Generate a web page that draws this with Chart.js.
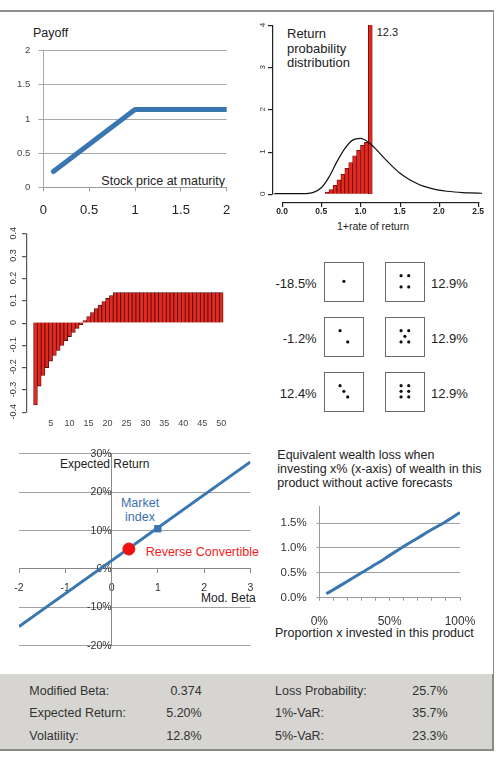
<!DOCTYPE html>
<html>
<head>
<meta charset="utf-8">
<script src="https://cdn.jsdelivr.net/npm/chart.js@4/dist/chart.umd.min.js"></script>
<style>
  html, body { margin: 0; padding: 0; background: #fff; }
  body { width: 496px; height: 767px; position: relative; overflow: hidden;
         font-family: "Liberation Sans", Arial, sans-serif; color: #222; }
  canvas { position: absolute; }
  .lbl { position: absolute; white-space: nowrap; line-height: 1; transform: translateY(-50%); }
  .rt { transform: translate(-100%, -50%); }
  .ct { transform: translate(-50%, -50%); }
  .line { position: absolute; background: #8e8e8e; }
  .die { position: absolute; width: 38px; height: 38px; border: 1px solid #6a6a6a; }
  .die canvas { left: 0; top: 0; }
  .stats { position: absolute; left: 0; top: 674px; width: 492px; height: 75px;
           background: #d6d5d1; border-right: 2px solid #8a8a8a; border-bottom: 2px solid #8a8a8a; }
</style>
</head>
<body>
<div class="line" style="left:0;top:10px;width:494px;height:1.5px"></div>
<div class="line" style="left:492.5px;top:10px;width:1.5px;height:665px"></div>
<div class="stats"></div>
<div id="texts"></div>
<script>
// payoff at maturity
const payoffPrice = [0.11, 1.0, 2.0];
const payoffValue = [0.23, 1.14, 1.14];
const payoffTicks = [0, 0.5, 1, 1.5, 2];

// return probability distribution (histogram + reference density)
const histMid = [0.575, 0.625, 0.675, 0.725, 0.775, 0.825, 0.875, 0.925, 0.975, 1.025, 1.075, 1.125];
const histDensity = [0.04, 0.1, 0.2, 0.33, 0.46, 0.6, 0.74, 0.9, 1.03, 1.15, 1.22, 12.3];
const densityX = [-0.1, 0, 0.1, 0.2, 0.3, 0.4, 0.5, 0.6, 0.7, 0.8, 0.9, 1.0, 1.1, 1.2, 1.3,
                  1.4, 1.5, 1.6, 1.7, 1.8, 1.9, 2.0, 2.1, 2.2, 2.3, 2.4, 2.5, 2.55];
const densityY = [0, 0, 0, 0, 0.003, 0.03, 0.14, 0.40, 0.76, 1.07, 1.27, 1.31, 1.22, 1.05, 0.85,
                  0.66, 0.49, 0.36, 0.26, 0.18, 0.125, 0.085, 0.058, 0.04, 0.027, 0.018, 0.012, 0.01];
const histTicksX = [0, 0.5, 1, 1.5, 2, 2.5];
const histTicksY = [0, 1, 2, 3, 4];

// sorted scenario returns
const scenarioNo = [1, 2, 3, 4, 5, 6, 7, 8, 9, 10, 11, 12, 13, 14, 15, 16, 17, 18, 19, 20, 21, 22, 23, 24, 25,
                    26, 27, 28, 29, 30, 31, 32, 33, 34, 35, 36, 37, 38, 39, 40, 41, 42, 43, 44, 45, 46, 47, 48, 49, 50];
const scenarioReturn = [-0.37, -0.285, -0.237, -0.202, -0.173, -0.148, -0.125, -0.103, -0.082, -0.063,
                        -0.044, -0.026, -0.01, 0.009, 0.027, 0.045, 0.062, 0.078, 0.094, 0.108,
                        0.121, 0.134, 0.134, 0.134, 0.134, 0.134, 0.134, 0.134, 0.134, 0.134,
                        0.134, 0.134, 0.134, 0.134, 0.134, 0.134, 0.134, 0.134, 0.134, 0.134,
                        0.134, 0.134, 0.134, 0.134, 0.134, 0.134, 0.134, 0.134, 0.134, 0.134];
const scenarioTicksX = [5, 10, 15, 20, 25, 30, 35, 40, 45, 50];
const scenarioTicksY = [-0.4, -0.3, -0.2, -0.1, 0, 0.1, 0.2, 0.3, 0.4];

// dice outcomes (pips as column,row on a 3x3 face)
const diceReturn = ['-18.5%', '-1.2%', '12.4%', '12.9%', '12.9%', '12.9%'];
const dicePips = [
  [[2, 2]],
  [[1, 3], [3, 1]],
  [[1, 3], [2, 2], [3, 1]],
  [[1, 3], [3, 3], [1, 1], [3, 1]],
  [[1, 3], [3, 3], [2, 2], [1, 1], [3, 1]],
  [[1, 3], [3, 3], [1, 2], [3, 2], [1, 1], [3, 1]]
];

// security market line
const smlBeta = [-2, 3];
const smlReturn = [-15.0, 27.9];
const marketBeta = [1];
const marketReturn = [10.5];
const productBeta = [0.374];
const productReturn = [5.2];
const smlTicksX = [-2, -1, 0, 1, 2, 3];
const smlTicksY = [-20, -10, 0, 10, 20, 30];

// equivalent wealth loss
const lossShare = [5, 10, 20, 30, 40, 50, 60, 70, 80, 90, 100];
const lossValue = [0.08, 0.16, 0.33, 0.5, 0.67, 0.85, 1.03, 1.2, 1.37, 1.53, 1.71];
const lossTicksX = [0, 10, 20, 30, 40, 50, 60, 70, 80, 90, 100];
const lossTicksY = [0, 0.5, 1, 1.5];

// summary
const statNameL = ['Modified Beta:', 'Expected Return:', 'Volatility:'];
const statValL = ['0.374', '5.20%', '12.8%'];
const statNameR = ['Loss Probability:', '1%-VaR:', '5%-VaR:'];
const statValR = ['25.7%', '35.7%', '23.3%'];

const FONT = '"Liberation Sans", Arial, sans-serif';
const BLUE = '#3a76b0';
Chart.defaults.font.family = FONT;
Chart.defaults.color = '#333';
Chart.defaults.animation = false;
Chart.defaults.responsive = false;
Chart.defaults.devicePixelRatio = 1;
Chart.defaults.plugins.legend.display = false;
Chart.defaults.plugins.tooltip.enabled = false;

function canvasAt(left, top, w, h, parent) {
  const c = document.createElement('canvas');
  c.width = w; c.height = h;
  c.style.left = left + 'px'; c.style.top = top + 'px';
  c.style.width = w + 'px'; c.style.height = h + 'px';
  (parent || document.body).appendChild(c);
  return c;
}
function label(text, x, y, size, cls, color) {
  const d = document.createElement('div');
  d.className = 'lbl' + (cls ? ' ' + cls : '');
  d.textContent = text;
  d.style.left = x + 'px'; d.style.top = y + 'px';
  d.style.fontSize = size + 'px';
  if (color) d.style.color = color;
  document.getElementById('texts').appendChild(d);
}
const setTicks = arr => s => { s.ticks = arr.map(v => ({ value: v })); };

// R style axes: line only over the tick range, ticks pointing outwards, rotated y labels
function rAxes(opts) {
  return {
    id: 'rAxes' + opts.tag,
    afterDraw(chart) {
      const { ctx, chartArea, scales: { x, y } } = chart;
      const yv = opts.yTicks, xv = opts.xTicks;
      const X = Math.round(chartArea.left - opts.gap) + 0.5;
      const y0 = y.getPixelForValue(yv[0]);
      const y1 = y.getPixelForValue(yv[yv.length - 1]);
      ctx.save();
      ctx.fillStyle = opts.color;
      ctx.fillRect(X - 0.5, Math.min(y0, y1), 1.2, Math.abs(y1 - y0) + 1);
      yv.forEach(v => {
        const Y = Math.round(y.getPixelForValue(v));
        ctx.fillRect(X - 4.5, Y, 4, 1.2);
      });
      if (xv) {
        const Y = Math.round(chartArea.bottom);
        const x0 = x.getPixelForValue(xv[0]);
        const x1 = x.getPixelForValue(xv[xv.length - 1]);
        ctx.fillRect(x0, Y, x1 - x0 + 1, 1.2);
        xv.forEach(v => {
          const P = Math.round(x.getPixelForValue(v));
          ctx.fillRect(P, Y, 1.2, 5);
        });
      }
      ctx.font = opts.ySize + 'px ' + FONT;
      ctx.fillStyle = '#333';
      ctx.textAlign = 'center';
      ctx.textBaseline = 'middle';
      yv.forEach(v => {
        ctx.save();
        ctx.translate(X - opts.yOffset, y.getPixelForValue(v));
        ctx.rotate(-Math.PI / 2);
        ctx.fillText(String(v), 0, 0);
        ctx.restore();
      });
      ctx.restore();
    }
  };
}

// --- payoff ---
new Chart(canvasAt(0, 20, 245, 205), {
  type: 'line',
  data: { datasets: [{
    data: payoffPrice.map((p, i) => ({ x: p, y: payoffValue[i] })),
    borderColor: BLUE, borderWidth: 5, pointRadius: 0,
    borderCapStyle: 'round', borderJoinStyle: 'round'
  }] },
  options: {
    layout: { padding: { top: 30.7, right: 18.3, left: 0, bottom: 0 } },
    scales: {
      x: { type: 'linear', min: 0, max: 2, afterBuildTicks: setTicks(payoffTicks),
           afterFit: s => { s.height = 37.7; },
           grid: { drawOnChartArea: false, tickLength: 4, color: '#9a9a9a' },
           border: { color: '#9a9a9a' },
           ticks: { font: { size: 13 }, padding: 11, color: '#222', maxRotation: 0, callback: v => String(v) } },
      y: { min: 0, max: 2, afterBuildTicks: setTicks(payoffTicks),
           afterFit: s => { s.width = 43.3; },
           grid: { color: '#a8a8a8', tickLength: 5 },
           border: { color: '#a8a8a8' },
           ticks: { font: { size: 9.5 }, padding: 8, color: '#444', callback: v => String(v) } }
    }
  }
});
label('Payoff', 33, 33.3, 12.5);
label('Stock price at maturity', 225, 181, 12.5, 'rt');

// --- histogram ---
new Chart(canvasAt(250, 12, 244, 228), {
  data: { datasets: [
    { type: 'line', data: densityX.map((v, i) => ({ x: v, y: densityY[i] })),
      borderColor: '#111', borderWidth: 1.2, pointRadius: 0, cubicInterpolationMode: 'monotone', order: 0 },
    { type: 'bar', data: histMid.map((v, i) => ({ x: v, y: histDensity[i] })),
      backgroundColor: '#e8261e', borderColor: '#5a0f0f', borderWidth: 0.8,
      barPercentage: 1, categoryPercentage: 1, clip: 0, order: 1 }
  ] },
  options: {
    layout: { padding: { top: 13, right: 8, left: 0, bottom: 0 } },
    scales: {
      x: { type: 'linear', min: -0.128, max: 2.6, offset: false, afterBuildTicks: setTicks(histTicksX),
           afterFit: s => { s.height = 38.3; },
           grid: { display: false, drawTicks: false },
           border: { display: false },
           ticks: { font: { size: 8.5, weight: 'bold' }, padding: 5.3, color: '#222', maxRotation: 0,
                    callback: v => v.toFixed(1) } },
      y: { min: -0.19, max: 4, afterBuildTicks: setTicks(histTicksY),
           afterFit: s => { s.width = 22; },
           grid: { display: false, drawTicks: false },
           border: { display: false },
           ticks: { display: false } }
    }
  },
  plugins: [rAxes({ tag: 'H', color: '#222', xTicks: histTicksX, yTicks: histTicksY, gap: 0, yOffset: 10, ySize: 8 })]
});
label('Return', 287, 33.3, 13);
label('probability', 287, 47.5, 13);
label('distribution', 287, 61.7, 13);
label('12.3', 376.7, 31.7, 11);
label('1+rate of return', 373, 226, 10.5, 'ct');

// --- scenario bars ---
new Chart(canvasAt(0, 222, 245, 212), {
  type: 'bar',
  data: { datasets: [{
    data: scenarioNo.map((n, i) => ({ x: n, y: scenarioReturn[i] })),
    backgroundColor: '#e5271f', borderColor: '#4a0d0d', borderWidth: 0.8,
    barPercentage: 1, categoryPercentage: 1
  }] },
  options: {
    layout: { padding: { top: 11.3, right: 15, left: 0, bottom: 0 } },
    scales: {
      x: { type: 'linear', min: -0.45, max: 52.32, offset: false, afterBuildTicks: setTicks(scenarioTicksX),
           afterFit: s => { s.height = 22.3; },
           grid: { display: false, drawTicks: false }, border: { display: false },
           ticks: { font: { size: 9 }, padding: 6.2, color: '#444', maxRotation: 0, autoSkip: false } },
      y: { min: -0.4, max: 0.4, afterBuildTicks: setTicks(scenarioTicksY),
           afterFit: s => { s.width = 30; },
           grid: { display: false, drawTicks: false },
           border: { display: false },
           ticks: { display: false } }
    }
  },
  plugins: [rAxes({ tag: 'S', color: '#555', yTicks: scenarioTicksY, gap: 4, yOffset: 13, ySize: 9 })]
});

// --- dice ---
const dieCols = [324, 385];
const dieRows = [262, 317, 372];
dicePips.forEach((pips, i) => {
  const col = Math.floor(i / 3), row = i % 3;
  const box = document.createElement('div');
  box.className = 'die';
  box.style.left = dieCols[col] + 'px';
  box.style.top = dieRows[row] + 'px';
  document.body.appendChild(box);
  new Chart(canvasAt(0, 0, 38, 38, box), {
    type: 'scatter',
    data: { datasets: [{ data: pips.map(p => ({ x: p[0], y: p[1] })),
                         pointRadius: 1.6, backgroundColor: '#111', borderWidth: 0 }] },
    options: {
      layout: { padding: 0 },
      scales: { x: { display: false, min: -1.89, max: 5.95 }, y: { display: false, min: -0.78, max: 4.54 } }
    }
  });
  const cy = dieRows[row] + 21;
  if (col === 0) label(diceReturn[i], 316.7, cy, 13, 'rt');
  else label(diceReturn[i], 431, cy, 13);
});

// --- security market line ---
new Chart(canvasAt(0, 440, 262, 225), {
  type: 'line',
  data: { datasets: [
    { type: 'scatter', data: productBeta.map((b, i) => ({ x: b, y: productReturn[i] })),
      pointStyle: 'circle', pointRadius: 6, backgroundColor: '#ee1111', borderColor: '#ee1111', order: 0 },
    { type: 'scatter', data: marketBeta.map((b, i) => ({ x: b, y: marketReturn[i] })),
      pointStyle: 'rect', pointRadius: 4.5, backgroundColor: '#3c74b2', borderColor: '#3c74b2', order: 1 },
    { data: smlBeta.map((b, i) => ({ x: b, y: smlReturn[i] })),
      borderColor: BLUE, borderWidth: 3, pointRadius: 0, order: 2 }
  ] },
  options: {
    layout: { padding: { left: 19, top: 11.7, right: 6, bottom: 19.3 } },
    scales: {
      x: { type: 'linear', min: -2, max: 3, position: { y: 0 }, afterBuildTicks: setTicks(smlTicksX),
           grid: { drawOnChartArea: false, tickLength: 4, color: '#888' },
           border: { color: '#888' },
           ticks: { font: { size: 10.5 }, padding: 8.7, color: '#333', maxRotation: 0 } },
      y: { min: -20, max: 30, position: { x: 0 }, afterBuildTicks: setTicks(smlTicksY),
           grid: { color: '#a0a0a0', tickLength: 4 },
           border: { color: '#888' },
           ticks: { font: { size: 10.5 }, padding: 7.6, color: '#333', callback: v => v + '%' } }
    }
  }
});
label('Expected Return', 60, 464, 12);
label('Market', 140, 502.7, 12.5, 'ct', '#3e6fae');
label('index', 140, 517.3, 12.5, 'ct', '#3e6fae');
label('Reverse Convertible', 145.7, 551.7, 12.5, '', '#ee1c1c');
label('Mod. Beta', 201, 597.7, 12);

// --- equivalent wealth loss ---
new Chart(canvasAt(262, 490, 232, 150), {
  type: 'line',
  data: { datasets: [{
    data: lossShare.map((s, i) => ({ x: s, y: lossValue[i] })),
    borderColor: BLUE, borderWidth: 3, pointRadius: 0, cubicInterpolationMode: 'monotone'
  }] },
  options: {
    layout: { padding: { top: 6.7, right: 34, left: 0, bottom: 0 } },
    scales: {
      x: { type: 'linear', min: 0, max: 100, afterBuildTicks: setTicks(lossTicksX),
           afterFit: s => { s.height = 42.3; },
           grid: { drawOnChartArea: false, tickLength: 3, color: '#999' },
           border: { color: '#999' },
           ticks: { font: { size: 12 }, padding: 13.8, color: '#333', maxRotation: 0, autoSkip: false,
                    callback: v => (v % 50 === 0 ? v + '%' : '') } },
      y: { min: 0, max: 1.832, afterBuildTicks: setTicks(lossTicksY),
           afterFit: s => { s.width = 57.3; },
           grid: { color: '#a0a0a0', tickLength: 3 },
           border: { color: '#999' },
           ticks: { font: { size: 11.5 }, padding: 9.6, color: '#333', callback: v => v.toFixed(1) + '%' } }
    }
  }
});
label('Equivalent wealth loss when', 277.3, 455, 12.5);
label('investing x% (x-axis) of wealth in this', 277.3, 469, 12.5);
label('product  without active forecasts', 277.3, 483.3, 12.5);
label('Proportion x invested in this product', 275, 633.3, 12.5);

// --- summary box ---
const rowsY = [691, 713.3, 735.7];
rowsY.forEach((y, i) => {
  label(statNameL[i], 29.3, y, 12.5, '', '#333');
  label(statValL[i], 201.7, y, 12.5, 'rt', '#333');
  label(statNameR[i], 275, y, 12.5, '', '#333');
  label(statValR[i], 447.7, y, 12.5, 'rt', '#333');
});
</script>
</body>
</html>
